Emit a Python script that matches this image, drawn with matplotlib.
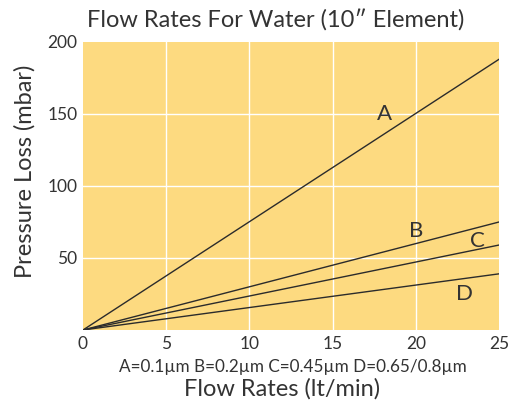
import matplotlib
matplotlib.use("Agg")
import matplotlib.pyplot as plt

# flow rate (lt/min) vs pressure loss (mbar), straight lines through origin
flow = [0, 25]
series = {
    "A": [0, 188],
    "B": [0, 75],
    "C": [0, 59],
    "D": [0, 39],
}
label_pos = {"A": (18.1, 150), "B": (20.0, 69), "C": (23.7, 62), "D": (22.9, 25)}
xticks = [0, 5, 10, 15, 20, 25]
yticks = [50, 100, 150, 200]

BG = "#FDDA80"
INK = "#333333"
plt.rcParams["font.family"] = ["Lato", "DejaVu Sans"]

fig = plt.figure(figsize=(5.16, 4.03), dpi=100)
ax = fig.add_axes([83 / 516, 1 - 330 / 403, 416 / 516, 288 / 403])
ax.set_facecolor(BG)
ax.set_xlim(0, 25)
ax.set_ylim(0, 200)

for x in xticks[1:-1]:
    ax.axvline(x, color="white", lw=1.0, zorder=1)
for y in yticks[:-1]:
    ax.axhline(y, color="white", lw=1.0, zorder=1)

for name, vals in series.items():
    ax.plot(flow, vals, color="#2b2b2b", lw=1.0, zorder=3)
    lx, ly = label_pos[name]
    ax.text(lx, ly, name, fontsize=16, color=INK, ha="center", va="center", zorder=4)

for s in ax.spines.values():
    s.set_visible(False)
ax.set_xticks(xticks)
ax.set_yticks(yticks)
ax.tick_params(length=0, labelsize=12.5, labelcolor=INK, pad=4)

fig.text(276 / 516, 1 - 20 / 403, "Flow Rates For Water (10\u2033 Element)",
         fontsize=17, color=INK, ha="center", va="center")
fig.text(293 / 516, 1 - 367 / 403, "A=0.1\u00b5m B=0.2\u00b5m C=0.45\u00b5m D=0.65/0.8\u00b5m",
         fontsize=12.3, color=INK, ha="center", va="center")
fig.text(282 / 516, 1 - 389 / 403, "Flow Rates (lt/min)",
         fontsize=17, color=INK, ha="center", va="center")
fig.text(25 / 516, 1 - 171 / 403, "Pressure Loss (mbar)", rotation=90,
         fontsize=17, color=INK, ha="center", va="center")

fig.savefig("out.png", dpi=100)
